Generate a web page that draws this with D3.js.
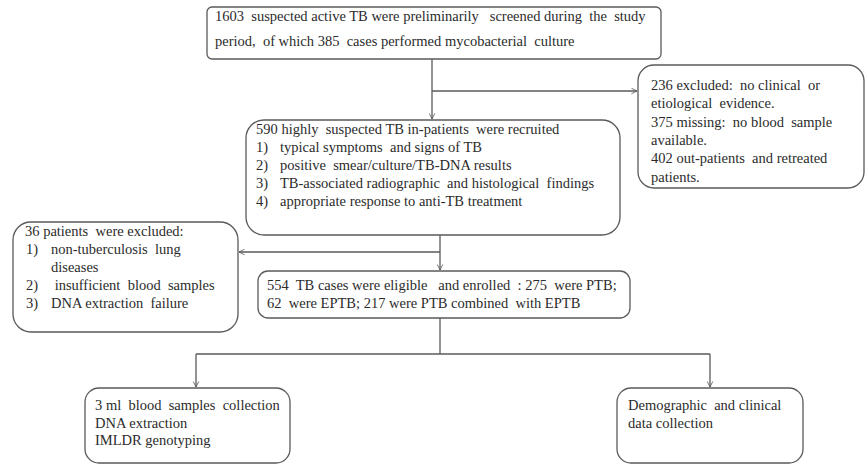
<!DOCTYPE html>
<html>
<head>
<meta charset="utf-8">
<script src="https://cdn.jsdelivr.net/npm/d3@7"></script>
<style>
  html, body { margin: 0; padding: 0; background: #fff; }
  svg { display: block; }
  text { font-family: "Liberation Serif", "Times New Roman", serif; font-size: 14.5px; fill: #2b2b2b; white-space: pre; }
</style>
</head>
<body>
<svg id="chart" width="866" height="464"></svg>
<script>
// ---- Text content (data) ----
const screenedLines = [
  "1603  suspected active TB were preliminarily   screened during  the  study",
  "period,  of which 385  cases performed mycobacterial  culture"
];
const excludedLines = [
  "236 excluded:  no clinical  or",
  "etiological  evidence.",
  "375 missing:  no blood  sample",
  "available.",
  "402 out-patients  and retreated",
  "patients."
];
const recruitedTitle = "590 highly  suspected TB in-patients  were recruited";
const recruitedNums = ["1)", "2)", "3)", "4)"];
const recruitedItems = [
  "typical symptoms  and signs of TB",
  "positive  smear/culture/TB-DNA results",
  "TB-associated radiographic  and histological  findings",
  "appropriate response to anti-TB treatment"
];
const patientsTitle = "36 patients  were excluded:";
const patientsNums = ["1)", "", "2)", "3)"];
const patientsItems = [
  "non-tuberculosis  lung",
  "diseases",
  " insufficient  blood  samples",
  "DNA extraction  failure"
];
const enrolledLines = [
  "554  TB cases were eligible   and enrolled  : 275  were PTB;",
  "62  were EPTB; 217 were PTB combined  with EPTB"
];
const bloodLines = [
  "3 ml  blood  samples  collection",
  "DNA extraction",
  "IMLDR genotyping"
];
const demoLines = [
  "Demographic  and clinical",
  "data collection"
];

// ---- Layout ----
const svg = d3.select("#chart");
const stroke = "#5a5a5a";

svg.append("defs").append("marker")
  .attr("id", "arr").attr("viewBox", "0 0 10 10")
  .attr("refX", 9).attr("refY", 5)
  .attr("markerWidth", 7).attr("markerHeight", 7)
  .attr("markerUnits", "userSpaceOnUse")
  .attr("orient", "auto")
  .append("path").attr("d", "M1,1 L9,5 L1,9")
  .attr("fill", "none").attr("stroke", stroke).attr("stroke-width", 1.2);

function box(x0, y0, x1, y1, r) {
  svg.append("rect")
    .attr("x", x0).attr("y", y0)
    .attr("width", x1 - x0).attr("height", y1 - y0)
    .attr("rx", r).attr("ry", r)
    .attr("fill", "#fff").attr("stroke", stroke).attr("stroke-width", 1.3);
}
function lines(arr, x, y0, dy) {
  svg.append("g").selectAll("text").data(arr).join("text")
    .attr("x", x).attr("y", (d, i) => y0 + i * dy)
    .text(d => d);
}
function seg(pts, arrow) {
  const p = svg.append("path")
    .attr("d", d3.line()(pts))
    .attr("fill", "none").attr("stroke", stroke).attr("stroke-width", 1.3);
  if (arrow) p.attr("marker-end", "url(#arr)");
}

// connectors
seg([[432, 59], [432, 119]], true);
seg([[432, 91], [637, 91]], true);
seg([[440, 235], [440, 270]], true);
seg([[440, 252], [239, 252]], true);
seg([[440, 318], [440, 354]], false);
seg([[196, 354], [710, 354]], false);
seg([[196, 354], [196, 387]], true);
seg([[710, 354], [710, 387]], true);

// boxes
box(207, 7, 661, 59, 5);
lines(screenedLines, 215, 21, 25);

box(638, 65, 864, 188, 16);
lines(excludedLines, 651, 90, 18.3);

box(246, 120, 620, 235, 18);
lines([recruitedTitle], 256, 134, 18);
lines(recruitedNums, 256, 152, 18);
lines(recruitedItems, 280, 152, 18);

box(13, 222, 238, 332, 18);
lines([patientsTitle], 25, 236, 18);
lines(patientsNums, 26, 254, 18);
lines(patientsItems, 51, 254, 18);

box(258, 271, 630, 318, 10);
lines(enrolledLines, 267, 290, 17.5);

box(85, 388, 290, 463, 14);
lines(bloodLines, 95, 410, 17.5);

box(617, 388, 803, 463, 14);
lines(demoLines, 628, 410, 17.5);
</script>
</body>
</html>
